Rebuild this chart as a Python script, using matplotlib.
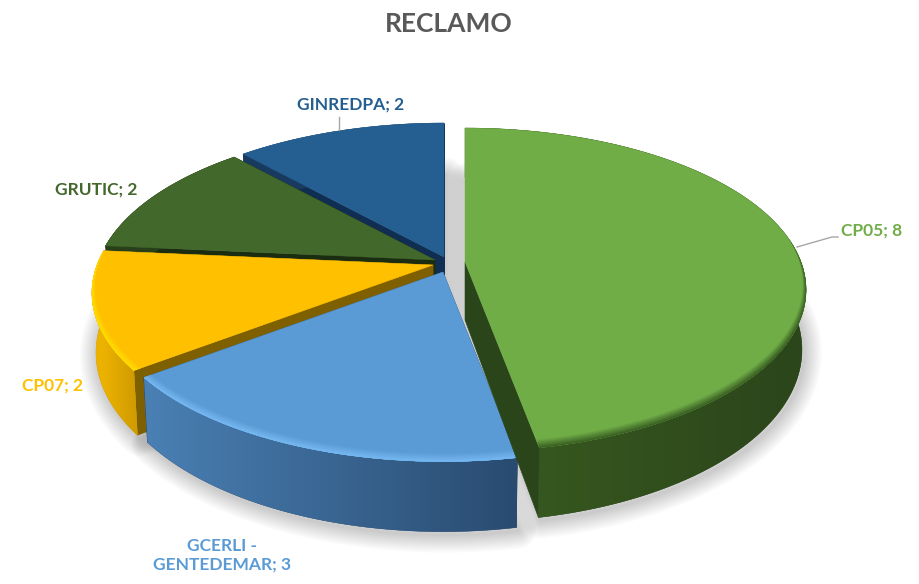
import numpy as np
import matplotlib
matplotlib.use("Agg")
import matplotlib.pyplot as plt
from matplotlib.colors import to_rgb
from matplotlib.patches import Polygon

plt.rcParams['font.family'] = ['Lato', 'DejaVu Sans']

title = "RECLAMO"
categories = ["CP05", "GCERLI - GENTEDEMAR", "CP07", "GRUTIC", "GINREDPA"]
values = [8, 3, 2, 2, 2]

# colores por porcion
top_colors = ["#70ad47", "#5b9bd5", "#ffc000", "#43682b", "#255e91"]
cut_colors = ["#2b451b", "#2b4c6e", "#7f6000", "#1b2d10", "#0f2e52"]
side_start = ["#2c461b", "#294b70", "#d19c00", "#27401a", "#173a5e"]
side_end = ["#36571f", "#4a80b4", "#ecb200", "#27401a", "#173a5e"]
rim_colors = ["#3c6325", "#74b6f0", "#ffdc00", "#43682b", "#255e91"]
label_colors = ["#70ad47", "#5b9bd5", "#ffc000", "#43682b", "#255e91"]

# vertice de cada porcion en pixeles (explosion)
apex_x = [465, 443, 433, 435, 444]
apex_y = [262, 272, 265, 260, 257]

# perspectiva del disco
A, B, K = 336, 157, 0.172
DEPTH = 58
SHRINK = 0.988


def project(theta, r=1.0, bottom=False):
    theta = np.asarray(theta, dtype=float)
    u = r * np.sin(theta)
    v = r * np.cos(theta)
    w = 1 + K * v
    dx = A * u / w
    dy = -B * v / w
    if bottom:
        dx = dx * SHRINK
        dy = dy + DEPTH / w
    return dx, dy


def mix(c1, c2, t):
    c1, c2 = np.array(to_rgb(c1)), np.array(to_rgb(c2))
    return c1 + (c2 - c1) * t


fig = plt.figure(figsize=(9.19, 5.84), dpi=100)
ax = fig.add_axes([0, 0, 1, 1])
ax.axis("off")

edges = np.cumsum([0] + values) / sum(values) * 2 * np.pi
spans = [np.linspace(edges[i], edges[i + 1], 240) for i in range(len(values))]

# sombra difusa debajo del pie
for i, th in enumerate(spans):
    dx, dy = project(th, bottom=True)
    xs = np.r_[apex_x[i], apex_x[i] + dx] + 2
    ys = np.r_[apex_y[i] + DEPTH, apex_y[i] + dy] + 3
    for lw in np.arange(26, 0, -2):
        ax.add_patch(Polygon(np.c_[xs, ys], closed=True, fc="none", ec="#000000",
                             lw=lw, alpha=0.014, joinstyle="round", zorder=1))

# de atras hacia adelante, CP05 al final
order = [4, 3, 2, 1, 0]
for z, i in enumerate(order):
    zo = 2 + z
    th = spans[i]
    ax0, ay0 = apex_x[i], apex_y[i]

    # caras de corte
    for ang in (th[0], th[-1]):
        tx, ty = project(ang)
        bx, by = project(ang, bottom=True)
        face = [(ax0, ay0), (ax0 + tx, ay0 + ty), (ax0 + bx, ay0 + by), (ax0, ay0 + DEPTH)]
        ax.add_patch(Polygon(face, closed=True, fc=cut_colors[i], ec=cut_colors[i],
                             lw=0.4, zorder=zo))

    # pared exterior con degradado horizontal recortado a la forma
    tx, ty = project(th)
    bx, by = project(th, bottom=True)
    wall = np.r_[np.c_[ax0 + tx, ay0 + ty], np.c_[ax0 + bx, ay0 + by][::-1]]
    patch = Polygon(wall, closed=True, fc=side_start[i], ec=side_start[i], lw=0.3, zorder=zo)
    ax.add_patch(patch)
    front = np.cos(th) < 0.15
    if front.any():
        x_from, x_to = (ax0 + tx)[front][0], (ax0 + tx)[front][-1]
        lo, hi = wall[:, 0].min(), wall[:, 0].max()
        grad_x = np.linspace(lo, hi, 300)
        # x_from -> inicio del degradado, x_to -> final
        frac = np.clip((grad_x - x_from) / (x_to - x_from), 0, 1)
        grad = np.array([[mix(side_start[i], side_end[i], t) for t in frac]])
        im = ax.imshow(grad, extent=[lo, hi, 584, 0], aspect="auto", zorder=zo,
                       interpolation="bilinear")
        im.set_clip_path(patch)

    # cara superior
    ax.add_patch(Polygon(np.c_[np.r_[ax0, ax0 + tx], np.r_[ay0, ay0 + ty]], closed=True,
                         fc=top_colors[i], ec=top_colors[i], lw=0.3, zorder=zo))

    # bisel del borde, mas ancho al frente
    width = 0.032 * np.clip(0.15 - np.cos(th), 0, None)
    layers = 8
    for n in range(layers):
        r0 = 1 - width * (1 - n / layers)
        x0, y0 = project(th, r0)
        x1, y1 = project(th, 1.0)
        strip = np.r_[np.c_[ax0 + x0, ay0 + y0], np.c_[ax0 + x1, ay0 + y1][::-1]]
        col = mix(top_colors[i], rim_colors[i], (n + 1) / layers)
        ax.add_patch(Polygon(strip, closed=True, fc=col, ec="none", zorder=zo))

ax.set_xlim(0, 919)
ax.set_ylim(584, 0)

# lineas guia
leader_color = "#a6a6a6"
ax.plot([339, 339], [130, 117], color=leader_color, lw=1, zorder=20)
ax.plot([797, 832, 838], [247, 237, 237], color=leader_color, lw=1, zorder=20)

# etiquetas
labels = [f"{c}; {v}" for c, v in zip(categories, values)]
labels[1] = labels[1].replace(" - ", " -\n")
label_x = [872, 222, 52, 96, 351]
label_y = [231, 555, 386, 190, 105]
for i, lab in enumerate(labels):
    ax.text(label_x[i], label_y[i], lab, color=label_colors[i], fontsize=12.5, fontweight="bold",
            ha="center", va="center", linespacing=1.22, zorder=21)

ax.text(449, 24, title, color="#595959", fontsize=19, fontweight="bold",
        ha="center", va="center", zorder=21)

fig.savefig("out.png", dpi=100, facecolor="white")
